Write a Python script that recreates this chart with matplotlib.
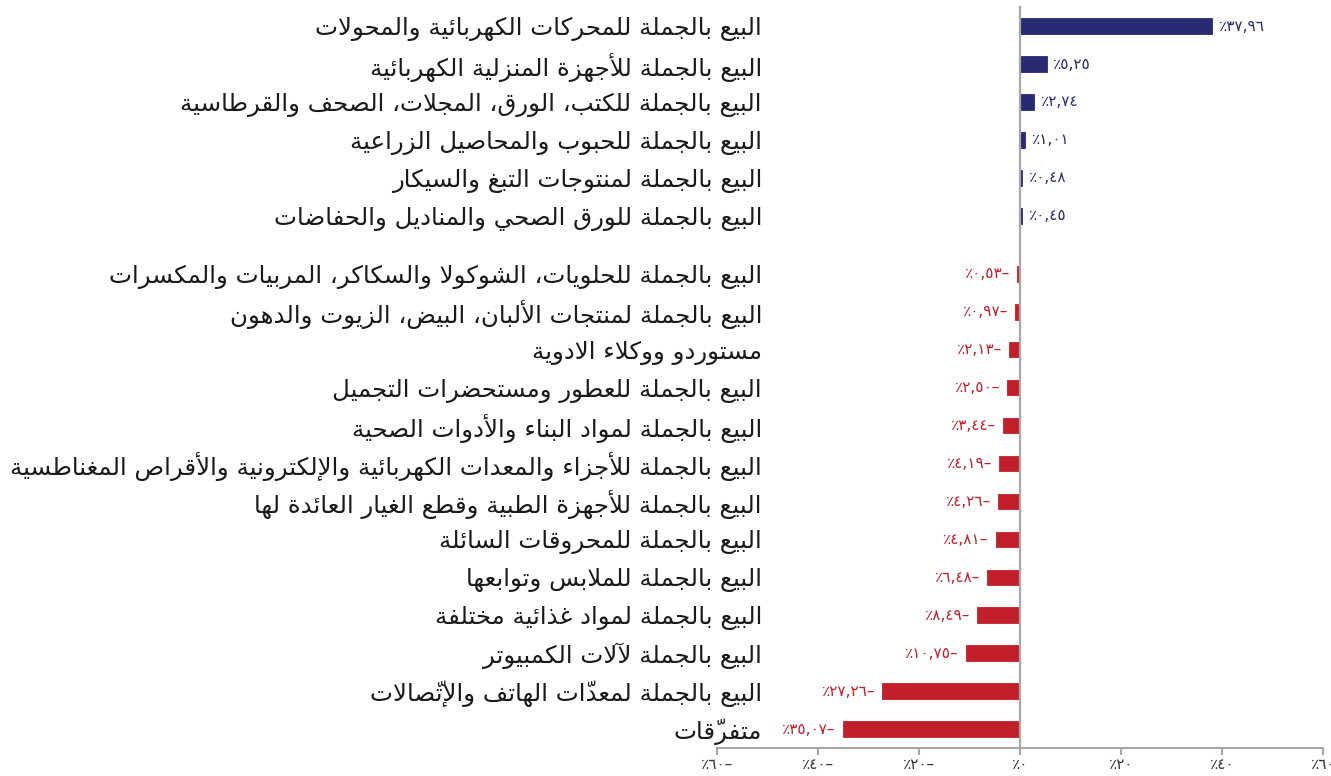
import matplotlib
matplotlib.use("Agg")
import matplotlib.pyplot as plt
from matplotlib.ticker import FuncFormatter

# ---------------- data ----------------
categories = [
    "البيع بالجملة للمحركات الكهربائية والمحولات",
    "البيع بالجملة للأجهزة المنزلية الكهربائية",
    "البيع بالجملة للكتب، الورق، المجلات، الصحف والقرطاسية",
    "البيع بالجملة للحبوب والمحاصيل الزراعية",
    "البيع بالجملة لمنتوجات التبغ والسيكار",
    "البيع بالجملة للورق الصحي والمناديل والحفاضات",
    "البيع بالجملة للحلويات، الشوكولا والسكاكر، المربيات والمكسرات",
    "البيع بالجملة لمنتجات الألبان، البيض، الزيوت والدهون",
    "مستوردو ووكلاء الادوية",
    "البيع بالجملة للعطور ومستحضرات التجميل",
    "البيع بالجملة لمواد البناء والأدوات الصحية",
    "البيع بالجملة للأجزاء والمعدات الكهربائية والإلكترونية والأقراص المغناطسية",
    "البيع بالجملة للأجهزة الطبية وقطع الغيار العائدة لها",
    "البيع بالجملة للمحروقات السائلة",
    "البيع بالجملة للملابس وتوابعها",
    "البيع بالجملة لمواد غذائية مختلفة",
    "البيع بالجملة لآلات الكمبيوتر",
    "البيع بالجملة لمعدّات الهاتف والإتّصالات",
    "متفرّقات",
]
values = [37.96, 5.25, 2.74, 1.01, 0.48, 0.45,
          -0.53, -0.97, -2.13, -2.50, -3.44, -4.19, -4.26, -4.81,
          -6.48, -8.49, -10.75, -27.26, -35.07]
n_positive = 6
x_ticks = [-60, -40, -20, 0, 20, 40, 60]

# ---------------- minimal Arabic shaping ----------------
_ORDER = [(0x621, 1), (0x622, 2), (0x623, 2), (0x624, 2), (0x625, 2), (0x626, 4),
          (0x627, 2), (0x628, 4), (0x629, 2), (0x62A, 4), (0x62B, 4), (0x62C, 4),
          (0x62D, 4), (0x62E, 4), (0x62F, 2), (0x630, 2), (0x631, 2), (0x632, 2),
          (0x633, 4), (0x634, 4), (0x635, 4), (0x636, 4), (0x637, 4), (0x638, 4),
          (0x639, 4), (0x63A, 4), (0x641, 4), (0x642, 4), (0x643, 4), (0x644, 4),
          (0x645, 4), (0x646, 4), (0x647, 4), (0x648, 2), (0x649, 2), (0x64A, 4)]
FORMS = {}
_c = 0xFE80
for _ch, _n in _ORDER:
    FORMS[chr(_ch)] = [chr(_c + i) for i in range(_n)]
    _c += _n
LAMALEF = {'\u0622': 0xFEF5, '\u0623': 0xFEF7, '\u0625': 0xFEF9, '\u0627': 0xFEFB}
MARKS = set(chr(c) for c in range(0x064B, 0x0653)) | {'\u0670'}


def shape(text):
    clusters = []
    for ch in text:
        if ch in MARKS and clusters:
            clusters[-1][1] += ch
        else:
            clusters.append([ch, ''])
    merged = []
    i = 0
    while i < len(clusters):
        b, m = clusters[i]
        if b == '\u0644' and i + 1 < len(clusters) and clusters[i + 1][0] in LAMALEF:
            merged.append(['LA', clusters[i + 1][0], m + clusters[i + 1][1]])
            i += 2
        else:
            merged.append([b, None, m])
            i += 1

    def joins_next(c):
        if c[0] == 'LA':
            return False
        return c[0] in FORMS and len(FORMS[c[0]]) == 4

    def joins_prev(c):
        if c[0] == 'LA':
            return True
        return c[0] in FORMS and len(FORMS[c[0]]) >= 2

    out = []
    for i, c in enumerate(merged):
        b, a, m = c
        pj = i > 0 and joins_next(merged[i - 1]) and joins_prev(c)
        nj = i + 1 < len(merged) and joins_next(c) and joins_prev(merged[i + 1])
        if b == 'LA':
            g = chr(LAMALEF[a] + (1 if pj else 0))
        elif b in FORMS:
            f = FORMS[b]
            if pj and nj:
                g = f[3]
            elif nj:
                g = f[2]
            elif pj:
                g = f[1]
            else:
                g = f[0]
        else:
            g = b
        out.append(m + g)
    return ''.join(reversed(out))


_DIG = str.maketrans('0123456789.', '٠١٢٣٤٥٦٧٨٩,')


def ar_num(s):
    return s.translate(_DIG)


def pct_label(v, fmt):
    return '٪' + ar_num(fmt.format(abs(v))) + ('–' if v < 0 else '')


# ---------------- figure ----------------
plt.rcParams['font.family'] = ['DejaVu Sans']
W, H = 1331, 776
fig = plt.figure(figsize=(W / 100, H / 100), dpi=100)
ax = fig.add_axes([717 / W, 28 / H, 606 / W, 742 / H])

navy = '#282A72'
red = '#C1202A'
gap = 0.53
pos = [i + (gap if i >= n_positive else 0) for i in range(len(values))]
colors = [navy if v >= 0 else red for v in values]

ax.barh(pos, values, height=0.41, color=colors, edgecolor=colors,
        linewidth=0.6, zorder=2)
ax.axvline(0, color='#A6A6A6', lw=1.6, zorder=3)

for p, v, c in zip(pos, values, colors):
    ax.annotate(pct_label(v, '{:.2f}'), xy=(v, p),
                xytext=(5 if v >= 0 else -5, 0), textcoords='offset points',
                ha='left' if v >= 0 else 'right', va='center',
                color=c, fontsize=11)

ax.set_xlim(-60, 60)
ax.set_ylim(len(values) - 1 + gap + 0.5, -0.53)
ax.set_xticks(x_ticks)
ax.xaxis.set_major_formatter(FuncFormatter(lambda v, _: pct_label(v, '{:.0f}')))
ax.set_yticks(pos)
ylabels = ax.set_yticklabels([shape(c) for c in categories], fontsize=15, color='#1a1a1a')

for s in ['left', 'top', 'right']:
    ax.spines[s].set_visible(False)
ax.spines['bottom'].set_color('#A6A6A6')
ax.spines['bottom'].set_linewidth(1.5)
ax.tick_params(axis='x', length=5, width=1.5, color='#A6A6A6',
               labelcolor='#333333', labelsize=11, pad=1.5)
ax.tick_params(axis='y', length=0, pad=-45 * 0.72)

# calibrate label size to the longest label width (~754 px)
fig.canvas.draw()
r = fig.canvas.get_renderer()
maxw = max(t.get_window_extent(r).width for t in ylabels)
fs = 15 * 754 / maxw
for t in ylabels:
    t.set_fontsize(fs)

fig.savefig('out.png', dpi=100)
